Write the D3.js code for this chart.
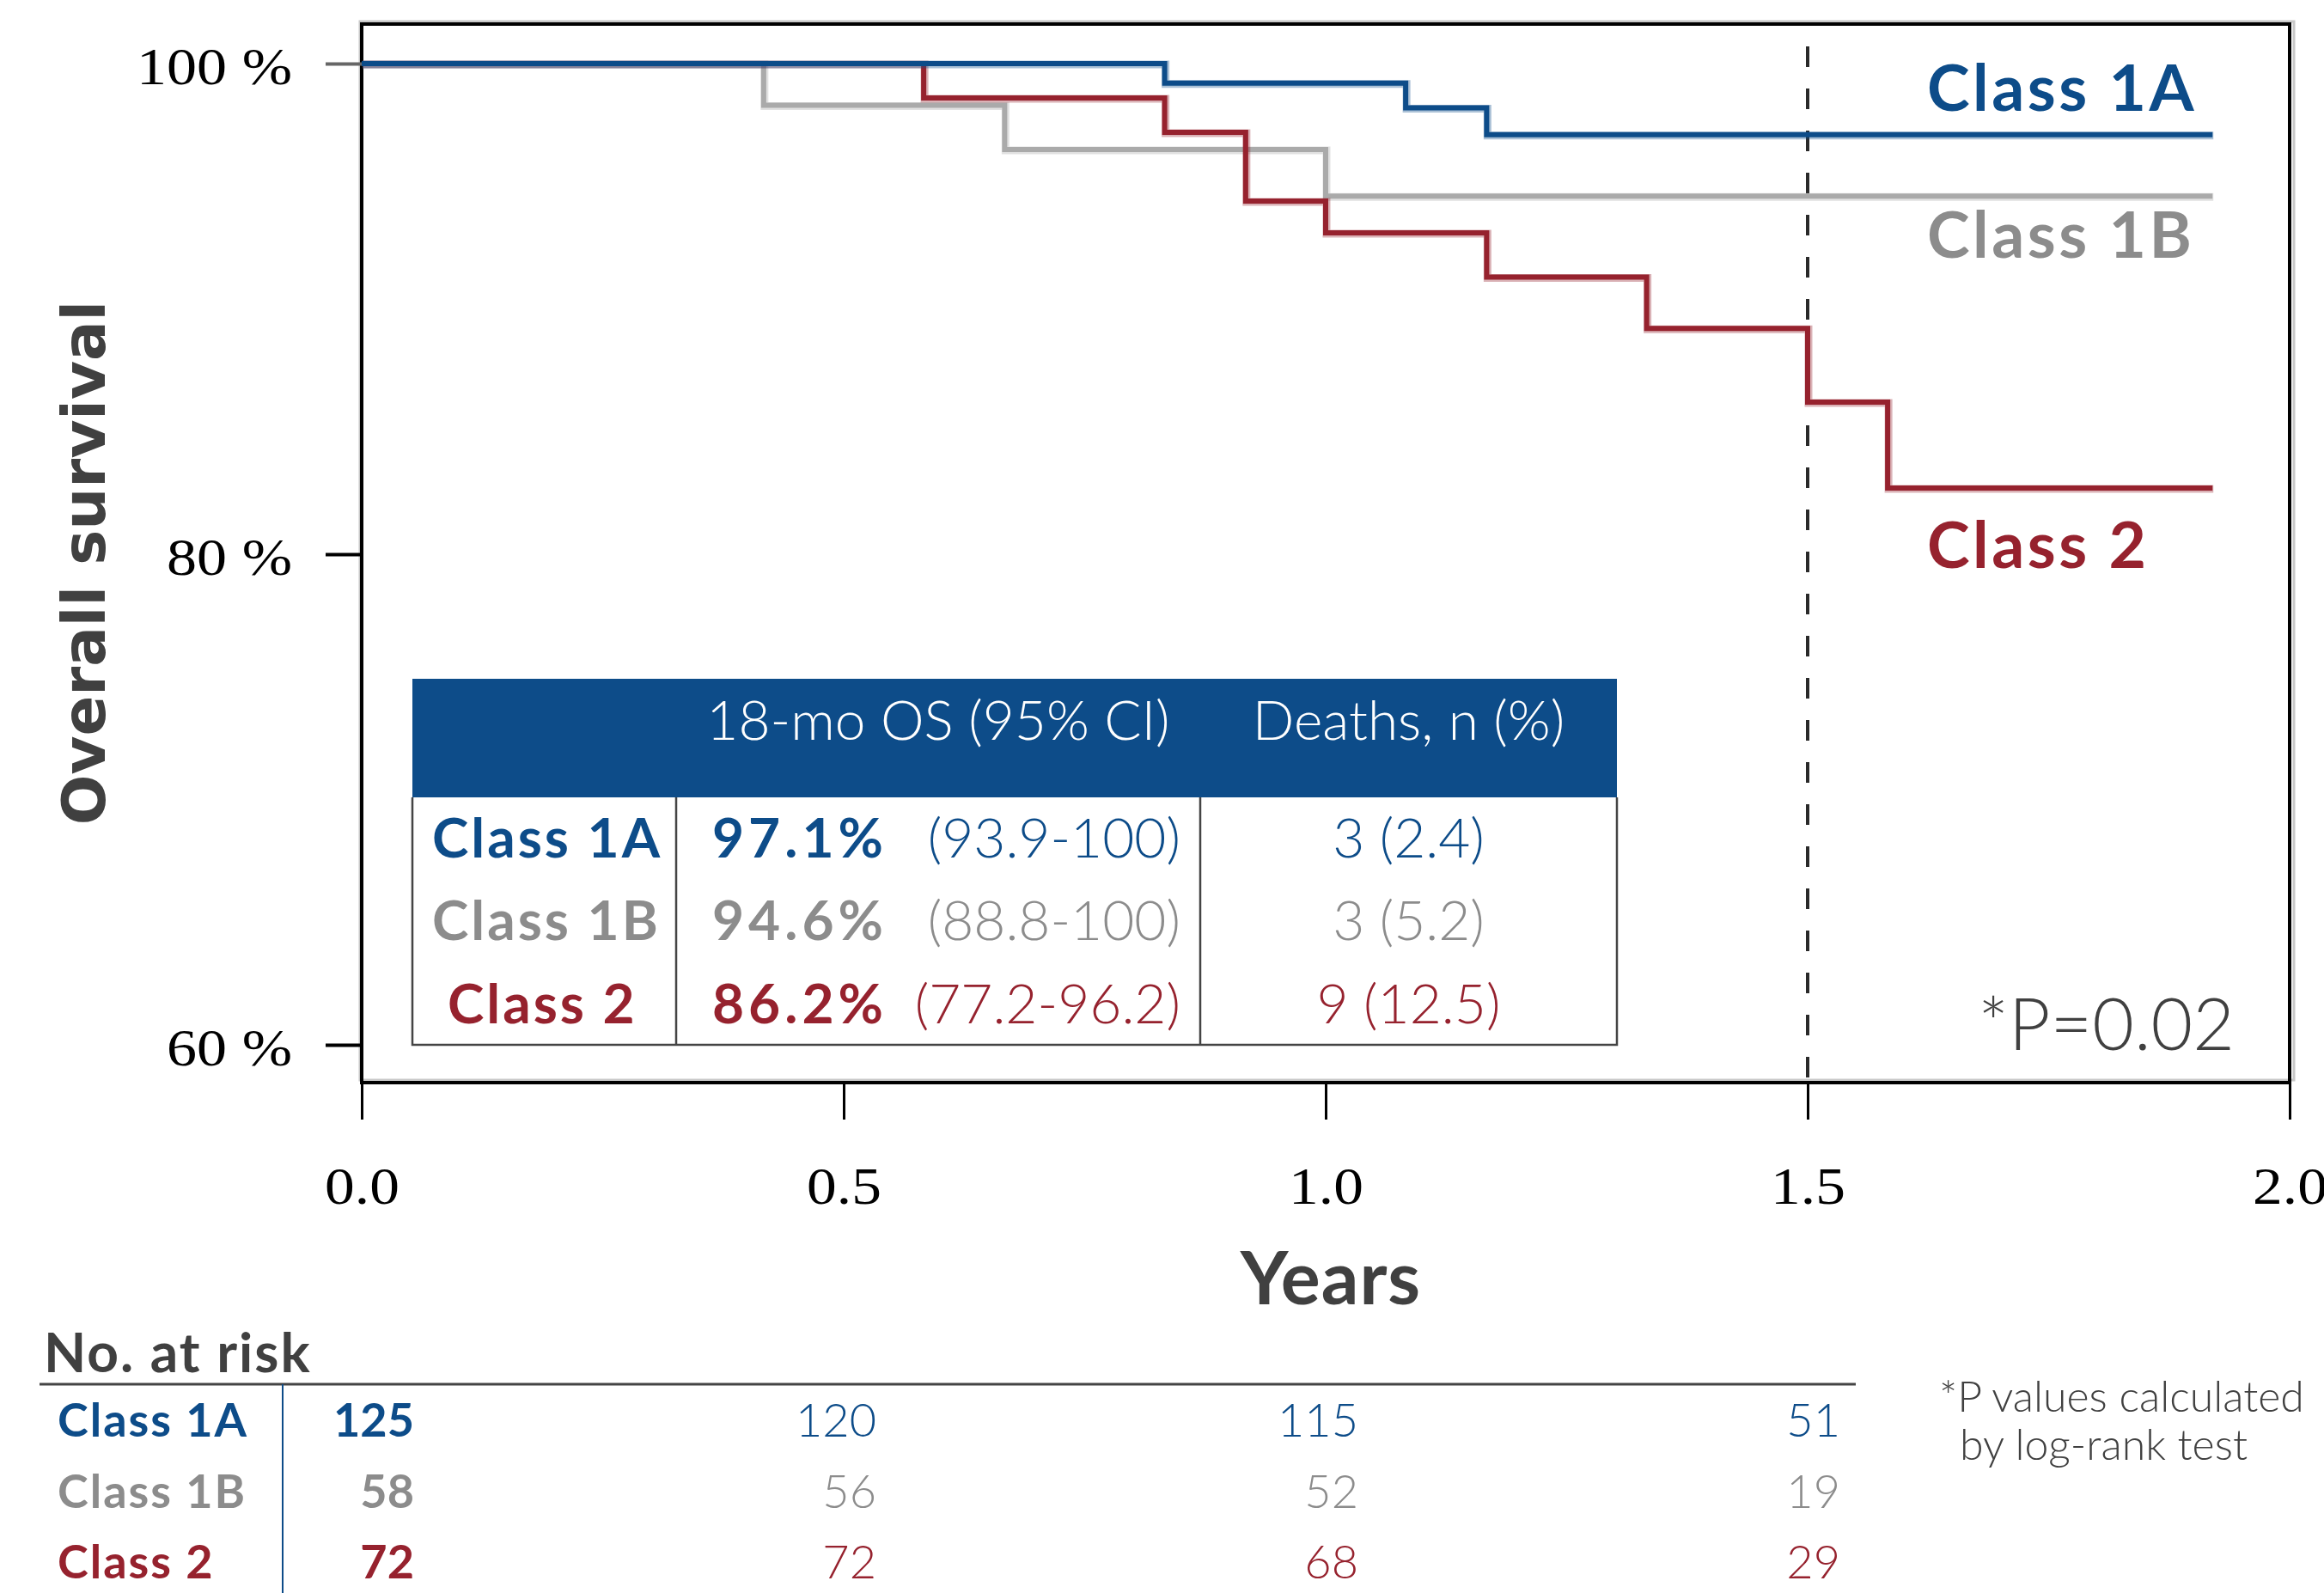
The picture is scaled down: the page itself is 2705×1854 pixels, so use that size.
<!DOCTYPE html>
<html>
<head>
<meta charset="utf-8">
<script src="https://cdn.jsdelivr.net/npm/d3@7"></script>
<style>
body { margin: 0; background: #fff; }
svg { display: block; }
</style>
</head>
<body>
<svg id="chart"></svg>
<script>
// survival curves (years, % surviving)
var times1A = [0, 0.833, 1.083, 1.167, 1.92]
var surv1A = [100, 99.2, 98.2, 97.1, 97.1]
var times1B = [0, 0.417, 0.667, 1.0, 1.92]
var surv1B = [100, 98.3, 96.5, 94.6, 94.6]
var times2 = [0, 0.583, 0.833, 0.917, 1.0, 1.167, 1.333, 1.5, 1.583, 1.92]
var surv2 = [100, 98.6, 97.2, 94.4, 93.1, 91.3, 89.2, 86.2, 82.7, 82.7]

var classNames = ["Class 1A", "Class 1B", "Class 2"]
var os18 = ["97.1%", "94.6%", "86.2%"]
var osCI = ["(93.9-100)", "(88.8-100)", "(77.2-96.2)"]
var deaths = ["3 (2.4)", "3 (5.2)", "9 (12.5)"]
var tableHeader = ["18-mo OS (95% CI)", "Deaths, n (%)"]

var riskTimes = [0, 0.5, 1.0, 1.5]
var risk1A = [125, 120, 115, 51]
var risk1B = [58, 56, 52, 19]
var risk2 = [72, 72, 68, 29]

var xTicks = [0, 0.5, 1.0, 1.5, 2.0]
var yTicks = [60, 80, 100]
var landmark = 1.5
var pValue = "*P=0.02"

var colors = ["#0d4c89", "#aaaaaa", "#96222e"]
var textColors = ["#0d4c89", "#8c8c8c", "#96222e"]
var dark = "#404040"

var W = 2705, H = 1854
var svg = d3.select("#chart").attr("width", W).attr("height", H)

var x = d3.scaleLinear().domain([0, 2]).range([421, 2665])
var y = d3.scaleLinear().domain([60, 100]).range([1216, 74])
var plotTop = 28, plotBottom = 1260

// stretch serif tick labels a bit wider, like the original
function widen(sel, k){
    sel.each(function(){
        var len = this.getComputedTextLength()
        d3.select(this).attr("textLength", len * k).attr("lengthAdjust", "spacingAndGlyphs")
    })
}

// frame shadow + frame
svg.append("rect")
    .attr("x", x(0) - 2).attr("y", plotTop - 3)
    .attr("width", x(2) - x(0) + 7).attr("height", plotBottom - plotTop)
    .attr("fill", "none").attr("stroke", "#c8c8c8").attr("stroke-width", 3)
svg.append("rect")
    .attr("x", x(0)).attr("y", plotTop)
    .attr("width", x(2) - x(0)).attr("height", plotBottom - plotTop)
    .attr("fill", "none").attr("stroke", "#000").attr("stroke-width", 4)

// y axis
var yAxis = d3.axisLeft(y).tickValues(yTicks).tickSize(42)
    .tickFormat(function(d){ return d + " %" })
var gy = svg.append("g").attr("transform", "translate(" + x(0) + ",0)").call(yAxis)
gy.select(".domain").remove()
gy.selectAll("line").attr("stroke-width", 4)
    .attr("stroke", function(d){ return d == 100 ? "#666" : "#000" })
gy.selectAll("text")
    .attr("x", -81).attr("dy", null).attr("y", 23)
    .attr("font-family", "'Liberation Serif', serif")
    .attr("font-size", 62).attr("fill", "#000")
    .call(widen, 1.13)

// x axis
var xAxis = d3.axisBottom(x).tickValues(xTicks).tickSize(43).tickFormat(d3.format(".1f"))
var gx = svg.append("g").attr("transform", "translate(0," + plotBottom + ")").call(xAxis)
gx.select(".domain").remove()
gx.selectAll("line").attr("stroke-width", 3).attr("stroke", "#000")
gx.selectAll("text")
    .attr("y", 141).attr("dy", null)
    .attr("font-family", "'Liberation Serif', serif")
    .attr("font-size", 62).attr("fill", "#000")
    .call(widen, 1.12)

// axis titles
svg.append("text")
    .attr("transform", "translate(122,655) rotate(-90)")
    .attr("text-anchor", "middle")
    .attr("font-family", "'DejaVu Sans', sans-serif").attr("font-weight", "bold")
    .attr("font-size", 69).attr("fill", dark)
    .text("Overall survival")
svg.append("text")
    .attr("x", 1549).attr("y", 1518)
    .attr("text-anchor", "middle")
    .attr("font-family", "Lato, sans-serif").attr("font-weight", "bold")
    .attr("font-size", 86).attr("fill", dark)
    .attr("letter-spacing", 1)
    .text("Years")

// landmark line
svg.append("line")
    .attr("x1", x(landmark)).attr("x2", x(landmark))
    .attr("y1", 54).attr("y2", plotBottom)
    .attr("stroke", "#2a2a2a").attr("stroke-width", 4)
    .attr("stroke-dasharray", "24,25")

// curves
var curveData = [
    d3.zip(times1A, surv1A),
    d3.zip(times1B, surv1B),
    d3.zip(times2, surv2)
]
var stepLine = d3.line()
    .x(function(d){ return x(d[0]) })
    .y(function(d){ return y(d[1]) })
    .curve(d3.curveStepAfter)

// draw gray first, then red, then blue on top
var order = [1, 2, 0]
order.forEach(function(i){
    svg.append("path")
        .datum(curveData[i])
        .attr("fill", "none")
        .attr("stroke", colors[i])
        .attr("stroke-opacity", 0.35)
        .attr("stroke-width", 9)
        .attr("transform", "translate(1,1)")
        .attr("d", stepLine)
    svg.append("path")
        .datum(curveData[i])
        .attr("fill", "none")
        .attr("stroke", colors[i])
        .attr("stroke-width", 6)
        .attr("d", stepLine)
})

// curve labels
var labelBaselines = [129, 300, 661]
classNames.forEach(function(name, i){
    svg.append("text")
        .attr("x", 2243).attr("y", labelBaselines[i])
        .attr("font-family", "Lato, sans-serif").attr("font-weight", "bold")
        .attr("font-size", 75).attr("fill", textColors[i])
        .attr("letter-spacing", 3.5)
        .text(name)
})

svg.append("text")
    .attr("x", 2601).attr("y", 1222)
    .attr("text-anchor", "end")
    .attr("font-family", "Lato, sans-serif").attr("font-weight", 300)
    .attr("font-size", 84).attr("fill", dark)
    .text(pValue)

// summary table
var tLeft = 480, tRight = 1882, tTop = 790, tHeadBottom = 928, tBottom = 1216
var col1 = 787, col2 = 1397
svg.append("rect")
    .attr("x", tLeft).attr("y", tTop)
    .attr("width", tRight - tLeft).attr("height", tHeadBottom - tTop)
    .attr("fill", "#0d4c89")
svg.append("path")
    .attr("d", "M" + tLeft + "," + tHeadBottom + "V" + tBottom + "H" + tRight + "V" + tHeadBottom
        + "M" + col1 + "," + tHeadBottom + "V" + tBottom
        + "M" + col2 + "," + tHeadBottom + "V" + tBottom)
    .attr("fill", "none").attr("stroke", "#444").attr("stroke-width", 2.5)

svg.append("text")
    .attr("x", (col1 + col2) / 2).attr("y", 861)
    .attr("text-anchor", "middle")
    .attr("font-family", "Lato, sans-serif").attr("font-weight", 300)
    .attr("font-size", 64).attr("fill", "#fff")
    .text(tableHeader[0])
svg.append("text")
    .attr("x", (col2 + tRight) / 2).attr("y", 861)
    .attr("text-anchor", "middle")
    .attr("font-family", "Lato, sans-serif").attr("font-weight", 300)
    .attr("font-size", 64).attr("fill", "#fff")
    .text(tableHeader[1])

var rowBase = [998, 1094, 1191]
classNames.forEach(function(name, i){
    svg.append("text")
        .attr("x", 503).attr("y", rowBase[i])
        .attr("dx", i == 2 ? 18 : 0)
        .attr("font-family", "Lato, sans-serif").attr("font-weight", "bold")
        .attr("font-size", 64).attr("fill", textColors[i])
        .attr("letter-spacing", 3)
        .text(name)
    svg.append("text")
        .attr("x", 829).attr("y", rowBase[i])
        .attr("font-family", "Lato, sans-serif").attr("font-weight", "bold")
        .attr("font-size", 64).attr("fill", textColors[i])
        .attr("letter-spacing", 5)
        .text(os18[i])
    svg.append("text")
        .attr("x", 1374).attr("y", rowBase[i])
        .attr("text-anchor", "end")
        .attr("font-family", "Lato, sans-serif").attr("font-weight", 300)
        .attr("font-size", 64).attr("fill", textColors[i])
        .text(osCI[i])
    svg.append("text")
        .attr("x", (col2 + tRight) / 2).attr("y", rowBase[i])
        .attr("text-anchor", "middle")
        .attr("font-family", "Lato, sans-serif").attr("font-weight", 300)
        .attr("font-size", 64).attr("fill", textColors[i])
        .text(deaths[i])
})

// number at risk
svg.append("text")
    .attr("x", 51).attr("y", 1597)
    .attr("font-family", "Lato, sans-serif").attr("font-weight", "bold")
    .attr("font-size", 64).attr("fill", dark)
    .attr("letter-spacing", 2)
    .text("No. at risk")
svg.append("line")
    .attr("x1", 46).attr("x2", 2160).attr("y1", 1611).attr("y2", 1611)
    .attr("stroke", "#444").attr("stroke-width", 3)
svg.append("line")
    .attr("x1", 329).attr("x2", 329).attr("y1", 1611).attr("y2", H)
    .attr("stroke", "#0d4c89").attr("stroke-width", 2)

var riskRows = [risk1A, risk1B, risk2]
var riskBase = [1672, 1755, 1837]
riskRows.forEach(function(row, i){
    svg.append("text")
        .attr("x", 67).attr("y", riskBase[i])
        .attr("font-family", "Lato, sans-serif").attr("font-weight", "bold")
        .attr("font-size", 54).attr("fill", textColors[i])
        .attr("letter-spacing", 2)
        .text(classNames[i])
    svg.selectAll(null)
        .data(row)
        .enter().append("text")
        .attr("x", function(d, j){ return x(riskTimes[j]) + (j == 0 ? 61 : 38) })
        .attr("y", riskBase[i])
        .attr("text-anchor", "end")
        .attr("font-family", "Lato, sans-serif")
        .attr("font-weight", function(d, j){ return j == 0 ? "bold" : 300 })
        .attr("font-size", 54).attr("fill", textColors[i])
        .text(function(d){ return d })
})

svg.append("text")
    .attr("x", 2257).attr("y", 1643)
    .attr("font-family", "Lato, sans-serif").attr("font-weight", 300)
    .attr("font-size", 50).attr("fill", dark)
    .text("*P values calculated")
svg.append("text")
    .attr("x", 2281).attr("y", 1699)
    .attr("font-family", "Lato, sans-serif").attr("font-weight", 300)
    .attr("font-size", 50).attr("fill", dark)
    .text("by log-rank test")
</script>
</body>
</html>
